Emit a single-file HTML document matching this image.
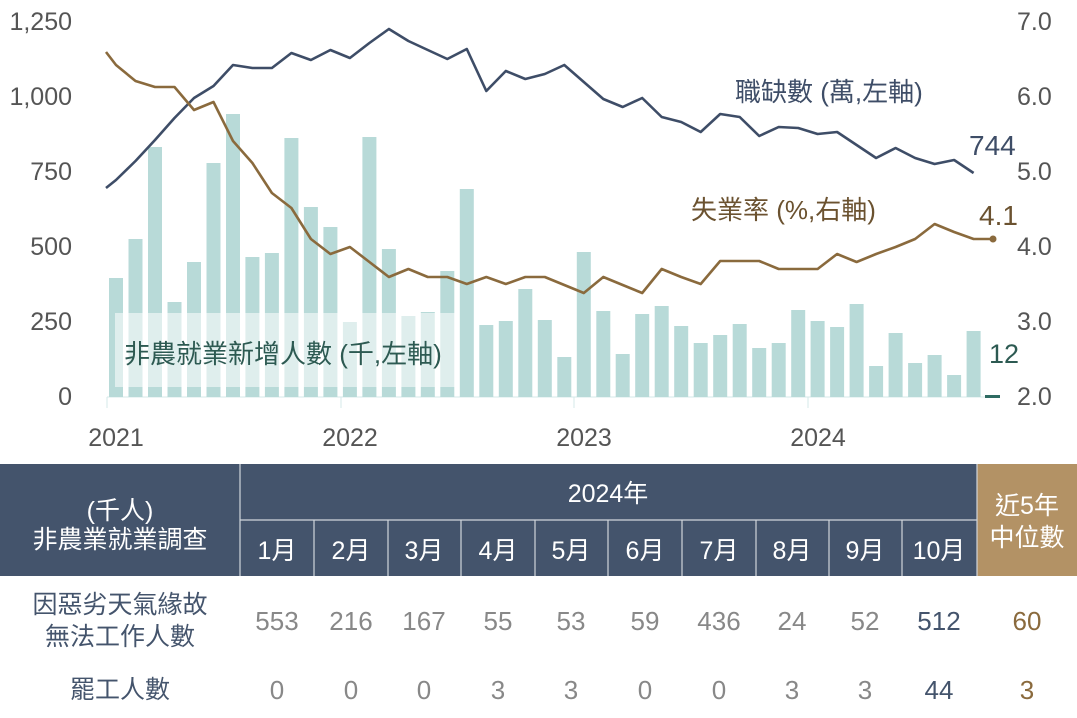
<!DOCTYPE html>
<html><head><meta charset="utf-8"><style>
html,body{margin:0;padding:0;background:#fff;}
svg{display:block;font-family:"Liberation Sans","Noto Sans CJK TC",sans-serif;}
</style></head><body>
<svg width="1077" height="718" viewBox="0 0 1077 718">
<g fill="#555" font-size="25" text-anchor="end">
<text x="72" y="30">1,250</text><text x="72" y="105">1,000</text><text x="72" y="180">750</text>
<text x="72" y="255">500</text><text x="72" y="330">250</text><text x="72" y="405">0</text>
</g>
<g fill="#555" font-size="25">
<text x="1017" y="30">7.0</text><text x="1017" y="105">6.0</text><text x="1017" y="180">5.0</text>
<text x="1017" y="255">4.0</text><text x="1017" y="330">3.0</text><text x="1017" y="405">2.0</text>
</g>
<g fill="#555" font-size="25" text-anchor="middle">
<text x="116" y="446">2021</text><text x="350" y="446">2022</text><text x="584" y="446">2023</text><text x="818" y="446">2024</text>
</g>
<g stroke="#d5e8e8" stroke-width="1">
<line x1="107" y1="397" x2="1000" y2="397"/>
<line x1="107" y1="397" x2="107" y2="408"/><line x1="341" y1="397" x2="341" y2="408"/>
<line x1="574" y1="397" x2="574" y2="408"/><line x1="808" y1="397" x2="808" y2="408"/>
</g>
<g fill="#b8dad8">
<rect x="109" y="278" width="14" height="119"/><rect x="128.5" y="239" width="14" height="158"/><rect x="148" y="147" width="14" height="250"/><rect x="167.5" y="302" width="14" height="95"/><rect x="187" y="262" width="14" height="135"/><rect x="206.5" y="163" width="14" height="234"/><rect x="226" y="114" width="14" height="283"/><rect x="245.4" y="257" width="14" height="140"/><rect x="264.9" y="253" width="14" height="144"/><rect x="284.4" y="138" width="14" height="259"/><rect x="303.9" y="207" width="14" height="190"/><rect x="323.4" y="227" width="14" height="170"/><rect x="342.9" y="322" width="14" height="75"/><rect x="362.4" y="137" width="14" height="260"/><rect x="381.9" y="249" width="14" height="148"/><rect x="401.4" y="316" width="14" height="81"/><rect x="420.8" y="312" width="14" height="85"/><rect x="440.3" y="271" width="14" height="126"/><rect x="459.8" y="189" width="14" height="208"/><rect x="479.3" y="325" width="14" height="72"/><rect x="498.8" y="321" width="14" height="76"/><rect x="518.3" y="289" width="14" height="108"/><rect x="537.8" y="320" width="14" height="77"/><rect x="557.3" y="357" width="14" height="40"/><rect x="576.8" y="252" width="14" height="145"/><rect x="596.3" y="311" width="14" height="86"/><rect x="615.7" y="354" width="14" height="43"/><rect x="635.2" y="314" width="14" height="83"/><rect x="654.7" y="306" width="14" height="91"/><rect x="674.2" y="326" width="14" height="71"/><rect x="693.7" y="343" width="14" height="54"/><rect x="713.2" y="335" width="14" height="62"/><rect x="732.7" y="324" width="14" height="73"/><rect x="752.2" y="348" width="14" height="49"/><rect x="771.7" y="343" width="14" height="54"/><rect x="791.2" y="310" width="14" height="87"/><rect x="810.6" y="321" width="14" height="76"/><rect x="830.1" y="327" width="14" height="70"/><rect x="849.6" y="304" width="14" height="93"/><rect x="869.1" y="366" width="14" height="31"/><rect x="888.6" y="333" width="14" height="64"/><rect x="908.1" y="363" width="14" height="34"/><rect x="927.6" y="355" width="14" height="42"/><rect x="947.1" y="375" width="14" height="22"/><rect x="966.6" y="331" width="14" height="66"/>
</g>
<rect x="985" y="395" width="15" height="3" fill="#2f6b62"/>
<rect x="115" y="313" width="340" height="74" fill="#fff" fill-opacity="0.55"/>
<text x="124" y="363" font-size="26" fill="#2d5a52">非農就業新增人數 (千,左軸)</text>
<text x="989" y="363" font-size="27" fill="#2d5a52">12</text>
<polyline fill="none" stroke="#3e4d67" stroke-width="2.6" stroke-linejoin="round" points="106,188 116,180 135.5,161 155,140 174.5,118 194,98 213.5,86 233,65 252.4,68 271.9,68 291.4,53 310.9,60 330.4,50 349.9,58 369.4,43 388.9,29 408.4,41 427.8,50 447.3,59 466.8,49 486.3,91 505.8,71 525.3,79 544.8,74 564.3,65 583.8,82 603.3,99 622.7,107 642.2,98 661.7,117 681.2,122 700.7,132 720.2,114 739.7,117 759.2,136 778.7,127 798.2,128 817.6,134 837.1,132 856.6,145 876.1,158 895.6,148 915.1,158 934.6,164 954.1,160 973.6,173"/>
<polyline fill="none" stroke="#8a6a3d" stroke-width="2.6" stroke-linejoin="round" points="106,52 116,65 135.5,81 155,87 174.5,87 194,110 213.5,102 233,141 252.4,163 271.9,193 291.4,208 310.9,239 330.4,254 349.9,247 369.4,262 388.9,277 408.4,269 427.8,277 447.3,277 466.8,284 486.3,277 505.8,284 525.3,277 544.8,277 564.3,285 583.8,293 603.3,277 622.7,285 642.2,293 661.7,269 681.2,277 700.7,284 720.2,261 739.7,261 759.2,261 778.7,269 798.2,269 817.6,269 837.1,254 856.6,262 876.1,254 895.6,247 915.1,239 934.6,224 954.1,232 973.6,239 993,239"/>
<circle cx="993" cy="239" r="3.5" fill="#8a6a3d"/>
<text x="735" y="101" font-size="26" fill="#3e4d67">職缺數 (萬,左軸)</text>
<text x="969" y="155" font-size="28" fill="#3e4d67">744</text>
<text x="691" y="219" font-size="26" fill="#6b5230">失業率 (%,右軸)</text>
<text x="979" y="225" font-size="28" fill="#6b5230">4.1</text>

<!-- table -->
<rect x="0" y="464" width="977" height="112" fill="#44546c"/>
<rect x="977" y="464" width="100" height="112" fill="#b39265"/>
<g stroke="#d0d5dc" stroke-width="1.2">
<line x1="240" y1="464" x2="240" y2="576"/>
<line x1="240" y1="520" x2="977" y2="520"/>
<line x1="314" y1="520" x2="314" y2="576"/><line x1="388" y1="520" x2="388" y2="576"/><line x1="461" y1="520" x2="461" y2="576"/><line x1="535" y1="520" x2="535" y2="576"/><line x1="608" y1="520" x2="608" y2="576"/><line x1="682" y1="520" x2="682" y2="576"/><line x1="756" y1="520" x2="756" y2="576"/><line x1="829" y1="520" x2="829" y2="576"/><line x1="902" y1="520" x2="902" y2="576"/>
<line x1="977" y1="464" x2="977" y2="576"/>
</g>
<g fill="#fff" font-size="25" text-anchor="middle">
<text x="120" y="519">(千人)</text><text x="120" y="548">非農業就業調查</text>
<text x="608" y="502">2024年</text>
<text x="277" y="559">1月</text><text x="351" y="559">2月</text><text x="424" y="559">3月</text><text x="498" y="559">4月</text><text x="571" y="559">5月</text><text x="645" y="559">6月</text><text x="719" y="559">7月</text><text x="792" y="559">8月</text><text x="865" y="559">9月</text><text x="939" y="559">10月</text>
<text x="1027" y="514">近5年</text><text x="1027" y="546">中位數</text>
</g>
<g fill="#44546c" font-size="25" text-anchor="middle">
<text x="120" y="613">因惡劣天氣緣故</text><text x="120" y="645">無法工作人數</text>
<text x="120" y="698">罷工人數</text>
</g>
<g fill="#888" font-size="26" text-anchor="middle">
<text x="277" y="630">553</text><text x="351" y="630">216</text><text x="424" y="630">167</text><text x="498" y="630">55</text><text x="571" y="630">53</text><text x="645" y="630">59</text><text x="719" y="630">436</text><text x="792" y="630">24</text><text x="865" y="630">52</text>
<text x="277" y="699">0</text><text x="351" y="699">0</text><text x="424" y="699">0</text><text x="498" y="699">3</text><text x="571" y="699">3</text><text x="645" y="699">0</text><text x="719" y="699">0</text><text x="792" y="699">3</text><text x="865" y="699">3</text>
</g>
<g fill="#44546c" font-size="26" text-anchor="middle"><text x="939" y="630">512</text><text x="939" y="699">44</text></g>
<g fill="#8a6a3d" font-size="26" text-anchor="middle"><text x="1027" y="630">60</text><text x="1027" y="699">3</text></g>
</svg>
</body></html>
